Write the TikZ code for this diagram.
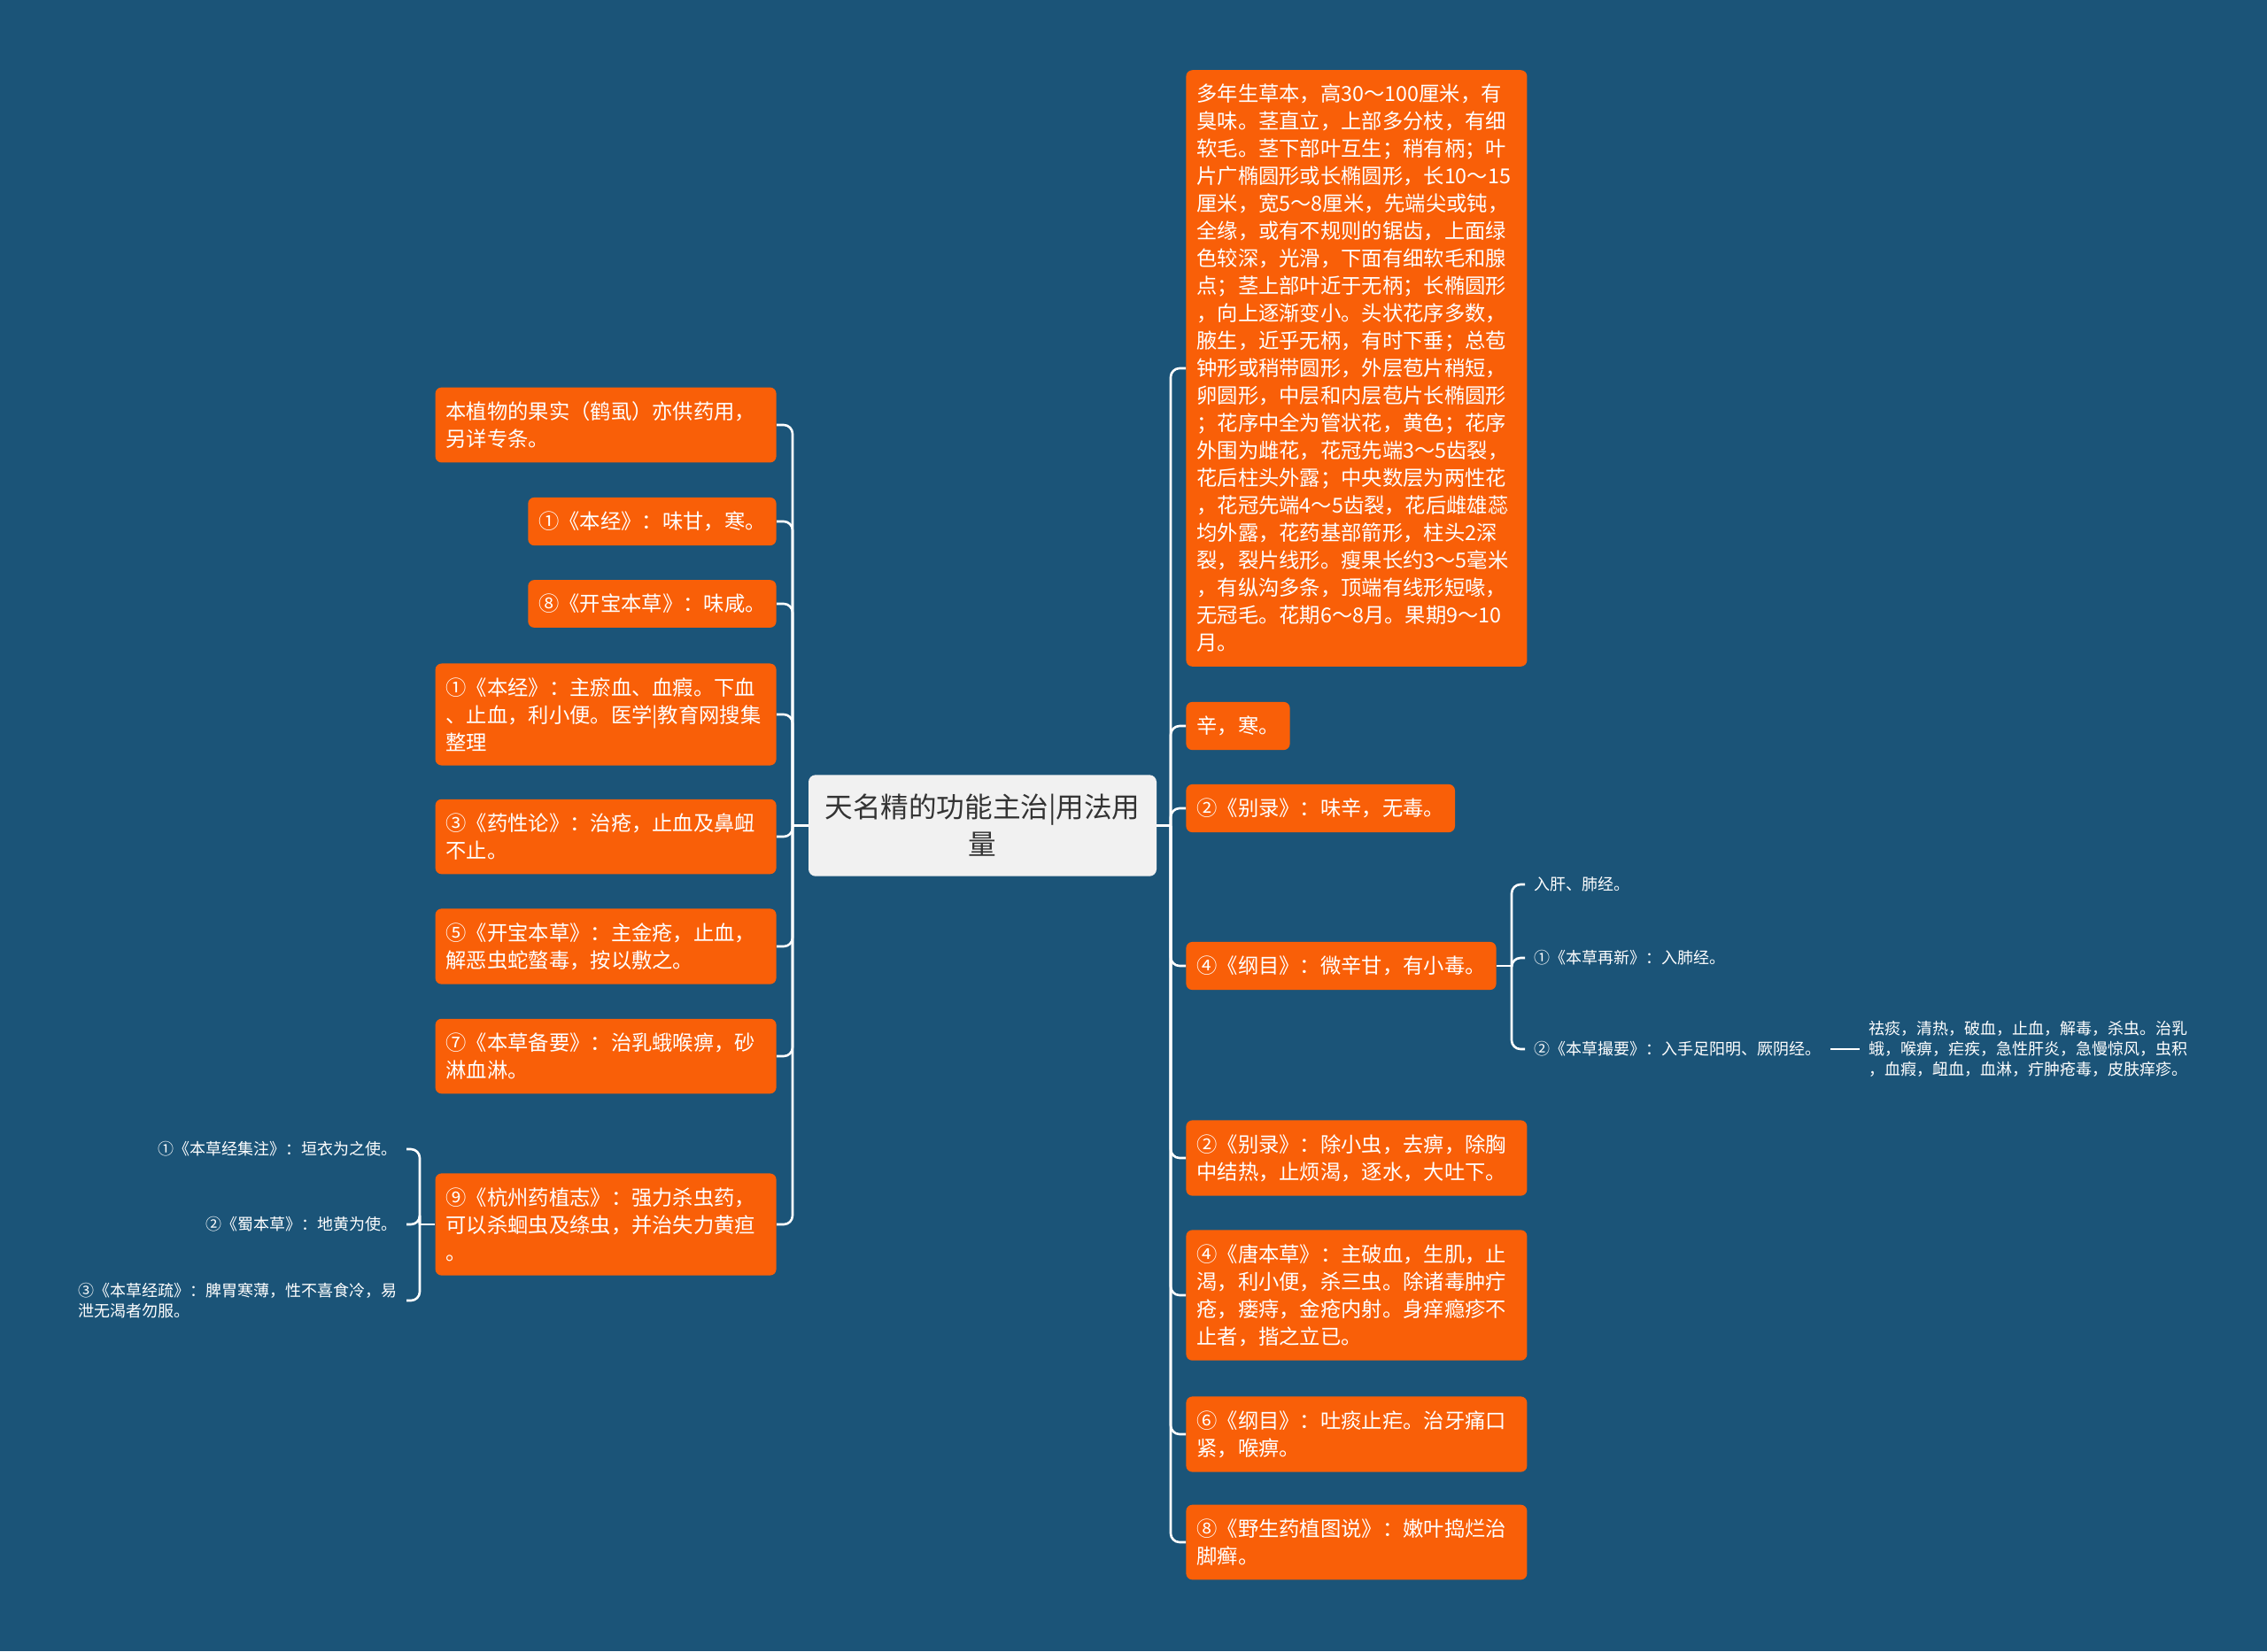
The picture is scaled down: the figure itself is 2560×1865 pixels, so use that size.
\documentclass[tikz,border=0pt]{standalone}
\usepackage{fontspec}
\setmainfont{Noto Sans CJK SC}
\definecolor{bgc}{RGB}{27,84,120}
\definecolor{orng}{RGB}{249,95,8}
\definecolor{ctrfill}{RGB}{241,241,241}
\definecolor{ctrtext}{RGB}{51,51,51}
\newcommand\myfs[2]{\fontsize{#1pt}{#2pt}\selectfont}
\tikzset{
  ob/.style={fill=orng, rounded corners=3.5pt, text=white, font=\myfs{11.65}{15.5}, inner xsep=6pt, inner ysep=8pt, align=left},
  obw/.style={ob, text width=180.5pt},
  sm/.style={text=white, font=\myfs{9}{11.5}, inner xsep=5pt, inner ysep=2pt, align=left},
  conn/.style={draw=white, line width=1.3pt, rounded corners=5pt},
  ctr/.style={fill=ctrfill, text=ctrtext, rounded corners=4pt, font=\myfs{15.8}{21}, align=center, text width=180.5pt, inner xsep=8pt, inner ysep=11pt}
}
\begin{document}
\begin{tikzpicture}[x=0.5pt,y=-0.5pt]
\useasboundingbox (0,0) rectangle (2560,1865);
\fill[bgc] (0,0) rectangle (2560,1865);

% center
\node[ctr] (c) at (1109.5,932.5) {天名精的功能主治|用法用\\量};

% left nodes
\node[obw, anchor=east] (l1) at (877,480) {本植物的果实（鹤虱）亦供药用，\\另详专条。};
\node[ob, anchor=east] (l2) at (877,589) {①《本经》：味甘，寒。};
\node[ob, anchor=east] (l3) at (877,682) {⑧《开宝本草》：味咸。};
\node[obw, anchor=east] (l4) at (877,807) {①《本经》：主瘀血、血瘕。下血\\、止血，利小便。医学|教育网搜集\\整理};
\node[obw, anchor=east] (l5) at (877,945) {③《药性论》：治疮，止血及鼻衄\\不止。};
\node[obw, anchor=east] (l6) at (877,1069) {⑤《开宝本草》：主金疮，止血，\\解恶虫蛇螫毒，按以敷之。};
\node[obw, anchor=east] (l7) at (877,1193) {⑦《本草备要》：治乳蛾喉痹，砂\\淋血淋。};
\node[obw, anchor=east] (l8) at (877,1383) {⑨《杭州药植志》：强力杀虫药，\\可以杀蛔虫及绦虫，并治失力黄疸\\。};

% children of l8
\node[sm, anchor=east] (c1) at (459,1298) {①《本草经集注》：垣衣为之使。};
\node[sm, anchor=east] (c2) at (459,1383) {②《蜀本草》：地黄为使。};
\node[sm, anchor=east] (c3) at (459,1469) {③《本草经疏》：脾胃寒薄，性不喜食冷，易\\泄无渴者勿服。};

% right nodes
\node[obw, anchor=west] (r1) at (1339,416) {多年生草本，高30～100厘米，有\\臭味。茎直立，上部多分枝，有细\\软毛。茎下部叶互生；稍有柄；叶\\片广椭圆形或长椭圆形，长10～15\\厘米，宽5～8厘米，先端尖或钝，\\全缘，或有不规则的锯齿，上面绿\\色较深，光滑，下面有细软毛和腺\\点；茎上部叶近于无柄；长椭圆形\\，向上逐渐变小。头状花序多数，\\腋生，近乎无柄，有时下垂；总苞\\钟形或稍带圆形，外层苞片稍短，\\卵圆形，中层和内层苞片长椭圆形\\；花序中全为管状花，黄色；花序\\外围为雌花，花冠先端3～5齿裂，\\花后柱头外露；中央数层为两性花\\，花冠先端4～5齿裂，花后雌雄蕊\\均外露，花药基部箭形，柱头2深\\裂，裂片线形。瘦果长约3～5毫米\\，有纵沟多条，顶端有线形短喙，\\无冠毛。花期6～8月。果期9～10\\月。};
\node[ob, anchor=west] (r2) at (1339,820) {辛，寒。};
\node[ob, anchor=west] (r3) at (1339,913) {②《别录》：味辛，无毒。};
\node[ob, anchor=west] (r4) at (1339,1091) {④《纲目》：微辛甘，有小毒。};
\node[obw, anchor=west] (r5) at (1339,1308) {②《别录》：除小虫，去痹，除胸\\中结热，止烦渴，逐水，大吐下。};
\node[obw, anchor=west] (r6) at (1339,1463) {④《唐本草》：主破血，生肌，止\\渴，利小便，杀三虫。除诸毒肿疔\\疮，瘘痔，金疮内射。身痒瘾疹不\\止者，揩之立已。};
\node[obw, anchor=west] (r7) at (1339,1620) {⑥《纲目》：吐痰止疟。治牙痛口\\紧，喉痹。};
\node[obw, anchor=west] (r8) at (1339,1742) {⑧《野生药植图说》：嫩叶捣烂治\\脚癣。};

% children of r4
\node[sm, anchor=west] (d1) at (1722,999) {入肝、肺经。};
\node[sm, anchor=west] (d2) at (1722,1082) {①《本草再新》：入肺经。};
\node[sm, anchor=west] (d3) at (1722,1185) {②《本草撮要》：入手足阳明、厥阴经。};
\node[sm, anchor=west] (e1) at (2100,1185) {祛痰，清热，破血，止血，解毒，杀虫。治乳\\蛾，喉痹，疟疾，急性肝炎，急慢惊风，虫积\\，血瘕，衄血，血淋，疔肿疮毒，皮肤痒疹。};

% connectors
\coordinate (jl) at (895,932.5);
\coordinate (jr) at (1322,932.5);
\coordinate (j8) at (474,1383);
\coordinate (j4) at (1707,1091);
\draw[conn] (c.west) -- (jl);
\draw[conn] (c.east) -- (jr);
\foreach \n in {l1,l2,l3,l4,l5,l6,l7,l8} \draw[conn] (jl) |- (\n.east);
\foreach \n in {r1,r2,r3,r4,r5,r6,r7,r8} \draw[conn] (jr) |- (\n.west);
\draw[conn] (l8.west) -- (j8);
\foreach \n in {c1,c2,c3} \draw[conn] (j8) |- (\n.east);
\draw[conn] (r4.east) -- (j4);
\foreach \n in {d1,d2,d3} \draw[conn] (j4) |- (\n.west);
\draw[conn] (d3.east) -- (e1.west);
\end{tikzpicture}
\end{document}
